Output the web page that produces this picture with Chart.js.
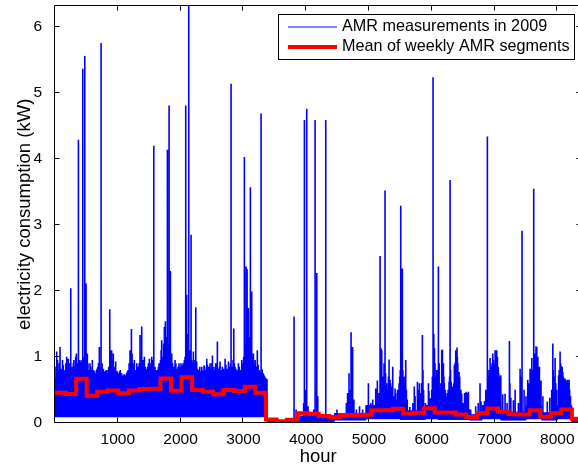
<!DOCTYPE html>
<html>
<head>
<meta charset="utf-8">
<script src="https://cdn.jsdelivr.net/npm/chart.js@4.4.0/dist/chart.umd.min.js"></script>
<style>
html, body { margin: 0; padding: 0; background: #fff; overflow: hidden; }
#wrap { width: 578px; height: 470px; overflow: hidden; }
</style>
</head>
<body>
<div id="wrap"><canvas id="amrChart" width="590" height="470"></canvas></div>
<script>
// ==================== DATA ====================
const hourTicks = [1000, 2000, 3000, 4000, 5000, 6000, 7000, 8000];
const kwTicks = [0, 1, 2, 3, 4, 5, 6];
const weekHours = 168;
// mean of each weekly segment (kW), week 0 .. 49
const weeklyMean = [0.455, 0.435, 0.665, 0.41, 0.47, 0.49, 0.445, 0.49, 0.51, 0.515,
    0.67, 0.485, 0.69, 0.495, 0.47, 0.43, 0.495, 0.48, 0.545, 0.455,
    0.05, 0.02, 0.045, 0.145, 0.135, 0.1, 0.085, 0.115, 0.115, 0.12,
    0.19, 0.19, 0.21, 0.14, 0.15, 0.22, 0.155, 0.155, 0.125, 0.085,
    0.145, 0.215, 0.165, 0.13, 0.125, 0.19, 0.09, 0.145, 0.2, 0.06];
// dense body of the hourly trace: held from each hour until the next one
const bandHours = [0, 336, 504, 1680, 1848, 2016, 2184, 3024, 3192, 3380, 3900, 4250, 4450, 4950, 5500, 5900, 6100, 6600, 6800, 7100, 7500, 7750, 8000, 8230, 8400];
const bandLow = [0.09, 0.09, 0.09, 0.09, 0.09, 0.09, 0.09, 0.09, 0.09, 0.01, 0.02, 0.02, 0.04, 0.06, 0.05, 0.06, 0.05, 0.04, 0.06, 0.04, 0.06, 0.04, 0.06, 0.01, 0.01];
const bandHigh = [0.68, 0.84, 0.66, 0.82, 0.68, 0.86, 0.68, 0.74, 0.66, 0.04, 0.1, 0.06, 0.14, 0.26, 0.18, 0.26, 0.2, 0.12, 0.26, 0.16, 0.25, 0.15, 0.26, 0.04, 0.04];
// single-hour peaks of the trace
const spikeHours = [27, 55, 80, 105, 133, 160, 186, 212, 251, 270, 292, 310, 329, 350, 373, 398, 420, 442, 460, 474,
    495, 515, 536, 557, 575, 595, 615, 640, 660, 680, 706, 734, 750, 770, 790, 815, 840, 872, 890, 902,
    929, 950, 966, 990, 1015, 1040, 1062, 1090, 1115, 1140, 1165, 1195, 1217, 1240, 1264, 1290, 1315, 1340, 1354, 1381,
    1400, 1423, 1450, 1475, 1503, 1520, 1540, 1573, 1593, 1615, 1635, 1657, 1680, 1699, 1720, 1742, 1758, 1779, 1790, 1805,
    1817, 1838, 1859, 1885, 1912, 1940, 1960, 1975, 1995, 2018, 2040, 2060, 2082, 2097, 2113, 2130, 2151, 2167, 2185, 2204,
    2225, 2242, 2257, 2280, 2305, 2337, 2355, 2374, 2395, 2417, 2440, 2470, 2490, 2507, 2530, 2549, 2570, 2586, 2610, 2629,
    2650, 2682, 2709, 2735, 2762, 2785, 2804, 2825, 2847, 2868, 2895, 2921, 2950, 2974, 2995, 3016, 3030, 3043, 3059, 3080,
    3095, 3112, 3133, 3160, 3180, 3197, 3222, 3250, 3282, 3300, 3319, 3340, 3362,
    3807, 3840, 3960, 3972, 3990, 4009, 4030, 4080, 4120, 4142, 4169, 4185, 4312, 4490, 4640, 4660, 4683, 4700, 4715, 4728,
    4740, 4760, 4800, 4850, 4900,
    4991, 5030, 5060, 5108, 5134, 5160, 5177, 5193, 5204, 5225, 5256, 5283, 5300, 5320, 5336, 5355, 5379, 5395, 5416, 5440,
    5470, 5490, 5506, 5520, 5532, 5550, 5570, 5586, 5610, 5650, 5700, 5722, 5735, 5772, 5790, 5804, 5830, 5851, 5870, 5900,
    5947, 5956, 5980, 6000, 6021, 6032, 6043, 6060, 6080, 6106, 6130, 6159, 6170, 6186, 6200, 6230, 6260, 6276, 6292, 6310,
    6340, 6360, 6382, 6388, 6403, 6409, 6420, 6435, 6455, 6478, 6500, 6523, 6547, 6573, 6584, 6620, 6700, 6740, 6769, 6785,
    6840, 6860, 6886, 6900, 6915, 6929, 6945, 6960, 6972, 6990, 7009, 7020, 7035, 7046, 7060, 7078, 7100, 7130, 7168, 7200,
    7237, 7260, 7300, 7328, 7380, 7407, 7438, 7470, 7500, 7529, 7550, 7566, 7580, 7593, 7610, 7624, 7646, 7660, 7673, 7690,
    7715, 7740, 7770, 7840, 7880, 7910, 7928, 7945, 7965, 7990, 8020, 8044, 8060, 8087, 8105, 8124, 8150, 8161, 8188, 8210];
const spikeValues = [1.08, 0.8, 1.15, 0.82, 0.87, 0.8, 1.0, 0.97, 2.04, 0.85, 0.9, 0.8, 1.0, 0.9, 4.29, 0.95, 0.92, 5.37, 1.0, 5.56,
    2.11, 1.05, 0.8, 0.9, 0.78, 0.95, 0.8, 0.75, 0.8, 0.85, 1.15, 5.76, 0.9, 0.82, 0.78, 0.8, 0.75, 1.72, 1.1, 1.1,
    1.05, 0.8, 0.93, 0.78, 0.75, 0.8, 0.75, 0.72, 0.7, 0.75, 0.8, 1.1, 1.42, 0.85, 0.95, 0.8, 0.85, 0.9, 1.33, 1.46,
    0.95, 1.0, 0.82, 0.85, 0.97, 0.85, 1.0, 4.2, 0.85, 0.8, 0.78, 0.9, 0.95, 1.25, 1.0, 1.45, 1.54, 1.3, 4.14, 1.1,
    4.81, 2.3, 1.05, 0.85, 0.95, 0.8, 0.85, 0.9, 0.8, 0.85, 0.9, 0.95, 4.81, 1.94, 1.35, 6.32, 1.1, 2.85, 0.9, 1.08,
    0.85, 1.75, 0.93, 0.8, 0.85, 0.85, 0.78, 0.87, 0.8, 0.97, 0.8, 0.9, 0.8, 1.02, 0.8, 0.85, 0.78, 1.23, 0.8, 0.93,
    0.78, 0.82, 0.97, 0.8, 0.93, 0.85, 5.14, 0.8, 1.43, 0.85, 0.78, 0.9, 0.8, 0.95, 0.85, 4.03, 1.0, 2.37, 2.33, 1.74,
    1.05, 3.57, 1.99, 1.05, 0.9, 0.85, 1.1, 0.8, 4.69, 0.8, 0.75, 0.7, 0.6,
    1.61, 0.2, 0.3, 4.59, 0.5, 4.76, 0.25, 0.15, 0.2, 4.59, 2.27, 0.4, 4.59, 0.2, 0.3, 0.45, 0.75, 0.5, 1.37, 0.6,
    1.15, 0.35, 0.2, 0.25, 0.2,
    0.6, 0.3, 0.35, 0.52, 0.64, 0.45, 2.53, 1.13, 1.1, 0.5, 3.52, 0.6, 0.5, 0.96, 0.65, 0.55, 0.85, 0.4, 0.52, 0.35,
    0.4, 0.7, 3.29, 0.9, 2.34, 0.6, 0.5, 0.95, 0.35, 0.24, 0.3, 0.55, 0.4, 0.62, 0.5, 0.6, 0.45, 1.33, 0.5, 0.3,
    0.6, 0.48, 0.37, 0.5, 5.24, 1.35, 1.13, 0.6, 0.8, 2.37, 0.5, 1.1, 1.11, 0.9, 0.6, 0.4, 0.5, 0.62, 3.68, 0.62,
    0.5, 0.87, 1.1, 1.1, 1.14, 1.0, 0.72, 0.77, 0.5, 0.44, 0.3, 0.45, 0.47, 0.45, 0.47, 0.2, 0.25, 0.3, 0.6, 0.32,
    0.33, 0.5, 4.34, 0.6, 0.7, 0.98, 0.64, 0.9, 1.05, 0.8, 1.1, 0.9, 1.1, 1.0, 0.85, 0.7, 0.72, 0.43, 0.44, 0.3,
    1.24, 0.38, 0.34, 0.5, 0.3, 0.82, 2.91, 0.5, 0.4, 0.65, 0.5, 0.82, 0.7, 0.98, 0.6, 3.55, 1.05, 1.16, 1.15, 1.0,
    0.85, 0.64, 0.4, 0.32, 0.38, 0.5, 1.2, 0.6, 0.98, 0.5, 0.72, 1.08, 0.86, 0.77, 0.66, 0.67, 0.64, 0.65, 0.65, 0.4];
// lower, denser ripples on top of the body
const fringeHours = [15, 40, 68, 92, 120, 147, 173, 199, 225, 238, 282, 300, 320, 340, 362, 385, 410, 430, 452, 485,
    505, 525, 546, 566, 585, 605, 628, 650, 670, 693, 720, 760, 780, 803, 828, 855, 880, 915, 940, 978,
    1003, 1028, 1050, 1075, 1103, 1128, 1152, 1180, 1206, 1228, 1252, 1277, 1302, 1328, 1366, 1390, 1412, 1437, 1462, 1488,
    1512, 1530, 1555, 1582, 1604, 1625, 1646, 1668, 1690, 1710, 1731, 1750, 1768, 1798, 1826, 1848, 1872, 1898, 1925, 1950,
    1968, 1985, 2007, 2029, 2050, 2071, 2090, 2105, 2122, 2140, 2159, 2176, 2195, 2215, 2234, 2250, 2268, 2292, 2320, 2346,
    2364, 2385, 2406, 2428, 2452, 2480, 2498, 2518, 2540, 2560, 2578, 2598, 2620, 2640, 2665, 2695, 2722, 2748, 2773, 2795,
    2815, 2836, 2857, 2880, 2908, 2935, 2962, 2985, 3005, 3022, 3037, 3050, 3067, 3087, 3103, 3120, 3145, 3170, 3188, 3210,
    3235, 3265, 3292, 3310, 3330, 3350,
    5185, 5215, 5240, 5265, 5310, 5345, 5365, 5425, 5455, 5480, 5498, 5512, 5540, 5560, 5578, 5596, 5840, 5860, 6010, 6052,
    6070, 6092, 6118, 6145, 6178, 6194, 6215, 6245, 6284, 6300, 6325, 6350, 6370, 6395, 6415, 6428, 6445, 6465, 6870, 6895,
    6908, 6922, 6937, 6952, 6966, 6980, 6998, 7015, 7028, 7040, 7052, 7068, 7088, 7245, 7415, 7430, 7540, 7574, 7600, 7617,
    7632, 7653, 7667, 7680, 7700, 7725, 7935, 7955, 7975, 8030, 8052, 8068, 8078, 8095, 8115, 8135, 8170, 8196];
const fringeValues = [0.85, 0.95, 0.9, 0.78, 0.95, 0.75, 0.9, 0.78, 0.85, 0.9, 0.8, 0.95, 0.85, 1.05, 0.8, 0.88, 0.78, 0.95, 0.85, 0.9,
    0.8, 0.9, 0.8, 0.85, 0.8, 0.72, 0.78, 0.75, 0.82, 0.9, 0.85, 0.8, 0.75, 0.72, 0.8, 0.85, 0.9, 0.95, 0.85, 0.78,
    0.72, 0.78, 0.72, 0.7, 0.74, 0.72, 0.78, 0.9, 0.95, 1.05, 0.9, 0.8, 0.9, 0.85, 1.0, 0.9, 0.95, 0.85, 0.8, 0.9,
    0.85, 0.9, 0.95, 0.82, 0.78, 0.8, 0.85, 0.9, 1.1, 0.95, 1.2, 1.0, 1.1, 1.2, 1.4, 1.0, 0.9, 0.85, 0.9, 0.82,
    0.8, 0.85, 0.9, 0.8, 0.88, 1.0, 1.2, 1.1, 1.3, 1.05, 1.0, 0.95, 0.9, 0.95, 0.9, 0.85, 0.82, 0.8, 0.78, 0.8,
    0.75, 0.85, 0.8, 0.88, 0.85, 0.82, 0.9, 0.85, 0.78, 0.9, 0.85, 0.82, 0.85, 0.8, 0.85, 0.78, 0.88, 0.82, 0.8, 0.9,
    0.85, 0.95, 0.9, 0.82, 0.8, 0.85, 0.78, 0.9, 1.0, 1.1, 1.2, 1.3, 1.5, 1.2, 1.3, 1.15, 1.0, 0.9, 0.95, 0.85,
    0.88, 0.78, 0.82, 0.75, 0.72, 0.68,
    0.8, 0.7, 0.9, 0.75, 0.7, 0.6, 0.5, 0.45, 0.5, 0.6, 0.8, 1.0, 0.8, 0.7, 0.6, 0.5, 0.6, 0.8, 0.7, 0.9,
    0.7, 0.8, 0.9, 0.6, 0.8, 0.7, 0.5, 0.45, 0.7, 0.8, 0.55, 0.6, 0.9, 0.95, 0.9, 0.6, 0.7, 0.5, 0.4, 0.8,
    0.65, 0.8, 0.85, 0.75, 0.9, 0.95, 0.9, 0.95, 0.85, 0.9, 0.8, 0.75, 0.6, 0.6, 0.6, 0.7, 0.6, 0.75, 0.8, 0.7,
    0.9, 0.9, 1.0, 0.9, 0.7, 0.6, 0.8, 0.7, 0.6, 0.8, 0.9, 0.7, 0.85, 0.7, 0.6, 0.55, 0.6, 0.5];

const X_MAX = 8385, Y_MAX = 6.32;
const FONT = '"Liberation Sans", Arial, Helvetica, sans-serif';

// ==================== BUILD SERIES ====================
function bandLowAt(h) {
    let i = 0;
    while (i + 1 < bandHours.length && bandHours[i + 1] <= h) i++;
    return bandLow[i];
}
const tracePts = [];
const addPeaks = (hours, vals) => hours.forEach((h, i) => {
    tracePts.push({ x: h, y: bandLowAt(h) }, { x: h, y: vals[i] }, { x: h, y: null });
});
addPeaks(fringeHours, fringeValues);
addPeaks(spikeHours, spikeValues);
const meanPts = weeklyMean.map((v, k) => ({ x: k * weekHours, y: v }));
meanPts.push({ x: weeklyMean.length * weekHours, y: weeklyMean[weeklyMean.length - 1] });
const highPts = bandHours.map((h, i) => ({ x: h, y: bandHigh[i] }));
const lowPts = bandHours.map((h, i) => ({ x: h, y: bandLow[i] }));

// frame, inward ticks and legend box, matlab style
const axesDecor = {
    id: 'axesDecor',
    afterDatasetsDraw(chart) {
        const { ctx, chartArea: a, scales: { x, y } } = chart;
        const L = Math.round(a.left) - 0.5, R = Math.round(a.right) - 0.5;
        const T = Math.round(a.top) - 0.5, B = Math.round(a.bottom) - 0.5;
        ctx.save();
        ctx.strokeStyle = '#000';
        ctx.lineWidth = 1;
        ctx.beginPath();
        ctx.moveTo(R, T); ctx.lineTo(L, T); ctx.lineTo(L, B); ctx.lineTo(R, B);
        hourTicks.forEach(v => {
            const px = Math.round(x.getPixelForValue(v)) - 0.5;
            ctx.moveTo(px, B); ctx.lineTo(px, B - 5);
            ctx.moveTo(px, T); ctx.lineTo(px, T + 5);
        });
        kwTicks.forEach(v => {
            const py = Math.round(y.getPixelForValue(v)) - 0.5;
            ctx.moveTo(L, py); ctx.lineTo(L + 5, py);
            ctx.moveTo(R, py); ctx.lineTo(R - 5, py);
        });
        ctx.stroke();
        ctx.restore();
    },
    afterDraw(chart) {
        const ctx = chart.ctx;
        ctx.save();
        ctx.fillStyle = '#fff';
        ctx.fillRect(278.5, 14.5, 296, 45);
        ctx.strokeStyle = '#000';
        ctx.lineWidth = 1;
        ctx.strokeRect(278.5, 14.5, 296, 45);
        ctx.beginPath();
        ctx.strokeStyle = '#0000ff';
        ctx.moveTo(288, 27); ctx.lineTo(337, 27);
        ctx.stroke();
        ctx.beginPath();
        ctx.strokeStyle = '#ff0000';
        ctx.lineWidth = 4;
        ctx.moveTo(288, 47); ctx.lineTo(337, 47);
        ctx.stroke();
        ctx.fillStyle = '#000';
        ctx.font = '16.2px ' + FONT;
        ctx.textBaseline = 'middle';
        ctx.fillText('AMR measurements in 2009', 342, 27);
        ctx.fillText('Mean of weekly AMR segments', 342, 47);
        ctx.restore();
    }
};

new Chart(document.getElementById('amrChart'), {
    type: 'line',
    data: {
        datasets: [
            { label: 'Mean of weekly AMR segments', data: meanPts, borderColor: '#ff0000', borderWidth: 4, stepped: true, pointRadius: 0, fill: false, order: 0 },
            { label: 'AMR measurements in 2009', data: tracePts, borderColor: '#0000ff', borderWidth: 1.6, pointRadius: 0, spanGaps: false, fill: false, order: 1 },
            { label: 'band high', data: highPts, borderColor: '#0000ff', borderWidth: 1, backgroundColor: '#0000ff', stepped: true, pointRadius: 0, fill: '+1', order: 2 },
            { label: 'band low', data: lowPts, borderColor: '#0000ff', borderWidth: 1, stepped: true, pointRadius: 0, fill: false, order: 3 }
        ]
    },
    options: {
        responsive: false,
        animation: false,
        devicePixelRatio: 1,
        layout: { padding: { top: 6, right: 8.5, left: 0, bottom: 0 } },
        plugins: { legend: { display: false }, tooltip: { enabled: false } },
        scales: {
            x: {
                type: 'linear', min: 0, max: X_MAX,
                grid: { display: false },
                border: { display: false },
                afterBuildTicks: s => { s.ticks = hourTicks.map(v => ({ value: v })); },
                afterFit: s => { s.height = 47.3; s.paddingLeft = 0; s.paddingRight = 0; },
                ticks: { autoSkip: false, maxRotation: 0, padding: 0, color: '#000', font: { family: FONT, size: 15.5 }, callback: v => String(v) },
                title: { display: true, text: 'hour', color: '#000', font: { family: FONT, size: 18.5 }, padding: { top: 0, bottom: 1.5 } }
            },
            y: {
                type: 'linear', min: 0, max: Y_MAX,
                grid: { display: false },
                border: { display: false },
                afterBuildTicks: s => { s.ticks = kwTicks.map(v => ({ value: v })); },
                afterFit: s => { s.width = 55; s.paddingTop = 0; s.paddingBottom = 0; },
                ticks: { autoSkip: false, padding: 5, color: '#000', font: { family: FONT, size: 15.5 }, callback: v => String(v) },
                title: { display: true, text: 'electricity consumption (kW)', color: '#000', font: { family: FONT, size: 18.5 }, padding: { top: 13.5, bottom: 0 } }
            }
        }
    },
    plugins: [axesDecor]
});
</script>
</body>
</html>
